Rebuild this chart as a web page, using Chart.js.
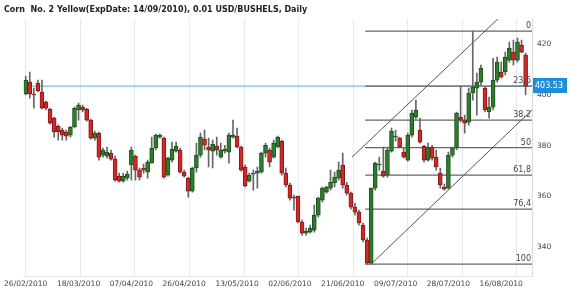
<!DOCTYPE html>
<html>
<head>
<meta charset="utf-8">
<script src="https://cdn.jsdelivr.net/npm/chart.js@4.4.1/dist/chart.umd.min.js"></script>
<style>
html, body { margin: 0; padding: 0; background: #fff; }
</style>
</head>
<body>
<canvas id="mycanvas" width="570" height="295"></canvas>
<script>
// corn daily candles, one entry per trading day
var dateLabels = ['26/02/2010','18/03/2010','07/04/2010','26/04/2010','13/05/2010',
                  '02/06/2010','21/06/2010','09/07/2010','28/07/2010','16/08/2010'];
var labelEvery = 13;     // bars between date labels
var gridEvery = 13.43;   // bars between vertical grid lines

var openP = [400.4,405.1,400.4,404.7,401.2,397.2,394.5,390.9,387.7,386.2,
  385.4,384.2,387.4,394.1,395.2,394.5,390.1,383.0,385.0,376.3,
  375.9,377.1,374.7,368.0,366.0,367.2,372.4,375.9,370.4,371.2,
  369.6,373.1,379.1,383.4,383.0,368.4,374.3,377.9,378.3,369.6,
  367.2,362.1,371.2,376.3,382.6,379.5,377.9,379.9,375.5,377.9,
  377.5,383.4,383.8,379.5,371.6,366.0,368.8,369.2,369.6,377.1,
  378.3,375.5,379.5,381.8,369.2,364.5,359.7,360.1,349.9,345.5,
  345.9,346.7,352.6,358.5,361.7,363.3,365.3,367.2,372.4,364.5,
  361.3,355.8,353.8,348.7,342.8,333.7,363.3,372.4,370.0,368.4,
  377.9,383.4,383.0,377.5,374.3,384.2,391.3,386.2,379.9,374.3,
  379.5,375.5,369.2,363.7,363.3,376.3,379.1,391.3,390.1,389.3,
  400.8,402.7,405.1,402.7,393.3,395.2,405.9,409.1,409.1,413.8,
  416.9,413.8,419.7,415.8];
var highP = [407.5,409.1,402.7,405.9,405.9,397.6,394.8,391.3,388.1,387.0,
  386.2,387.7,395.2,396.8,396.0,394.8,390.5,385.8,385.4,379.1,
  379.5,378.3,375.9,369.2,369.2,370.0,379.5,376.3,371.2,372.8,
  374.3,383.4,384.6,384.6,383.4,375.5,381.4,381.4,379.1,370.4,
  367.6,371.6,381.0,385.0,386.2,383.0,382.2,383.4,381.0,380.2,
  385.0,390.1,387.0,379.9,372.4,369.2,370.4,371.6,377.5,381.0,
  379.1,382.2,383.8,382.2,371.2,365.3,360.5,360.1,350.7,347.5,
  348.7,356.6,359.7,363.7,364.1,370.4,369.6,373.5,377.1,365.6,
  361.7,357.4,354.6,349.5,343.6,363.3,373.5,375.5,379.5,379.5,
  387.0,386.2,383.4,379.1,385.0,394.1,398.0,390.9,380.2,381.0,
  380.2,378.3,371.2,364.9,377.5,379.5,393.3,403.5,392.1,402.7,
  425.2,408.7,411.8,403.1,399.2,414.6,415.0,413.0,416.9,420.9,
  421.7,422.5,421.7,416.6];
var lowP = [400.0,398.8,394.8,401.2,394.5,394.1,388.5,383.4,382.2,382.2,
  382.2,383.4,387.0,390.1,393.3,389.7,382.6,382.2,374.3,375.5,
  375.1,374.3,366.0,365.6,365.6,366.4,366.4,366.4,366.4,369.2,
  367.2,373.1,378.3,383.0,367.2,368.0,373.5,377.5,369.2,367.6,
  359.7,361.7,369.6,375.5,378.3,371.6,371.2,376.3,375.1,377.1,
  373.1,383.0,379.1,370.0,363.7,365.6,362.5,363.3,369.2,375.5,
  371.6,375.1,379.1,368.4,363.7,358.5,354.6,349.5,344.7,344.7,
  345.5,345.9,351.8,357.8,361.3,362.5,363.7,366.4,363.3,360.5,
  355.0,352.6,348.7,342.0,333.3,333.3,362.5,370.4,367.6,367.6,
  377.5,381.8,379.1,375.1,373.9,383.4,390.5,381.0,373.5,373.9,
  374.3,370.4,363.3,362.5,362.9,375.5,378.3,389.3,385.0,388.1,
  398.0,392.1,403.9,393.3,390.9,394.1,405.1,406.7,407.9,413.0,
  411.8,413.0,416.6,400.0];
var closeP = [405.9,400.4,400.0,401.6,394.8,394.8,388.9,385.4,385.4,384.2,
  383.8,387.4,394.8,396.0,394.1,390.1,383.0,385.0,375.5,378.3,
  377.5,374.7,366.4,366.0,368.0,368.8,378.3,370.4,367.6,370.4,
  373.5,379.1,384.2,384.2,367.6,375.1,378.7,379.9,369.6,368.0,
  362.1,371.2,376.3,383.4,380.2,378.3,380.6,378.3,378.3,378.7,
  384.2,384.2,379.5,370.4,364.1,368.4,369.2,370.0,377.1,380.2,
  373.5,381.0,383.4,369.2,364.5,359.3,359.3,349.9,345.5,346.3,
  347.5,352.6,359.3,363.3,363.7,365.6,367.6,370.4,364.5,361.3,
  355.8,353.8,349.5,342.8,333.7,363.3,373.1,372.8,368.0,378.3,
  385.8,383.8,379.5,375.5,384.2,392.9,394.1,381.4,374.3,379.5,
  375.1,371.6,364.5,362.9,376.3,379.1,392.9,390.1,388.9,400.8,
  403.1,405.1,410.6,394.1,395.2,405.9,413.0,407.1,415.0,418.5,
  413.8,420.9,416.9,403.53];

var yTicks = [340, 360, 380, 400, 420];
var lastPrice = 403.53;

// fibonacci retracement (low -> high) and the channel drawn on the chart
var fibRatios = [0, 23.6, 38.2, 50, 61.8, 76.4, 100];
var fibNames = ['0', '23,6', '38,2', '50', '61,8', '76,4', '100'];
var lowerChannelX = [85, 124.6];
var lowerChannelY = [333.3, 394.2];
var upperChannelX = [80.3, 117];
var upperChannelY = [375.5, 431.3];

var xMin = -0.5, xMax = 124.57;
var yMin = 328.6, yMax = 430;

var hi = Math.max.apply(null, highP);
var lo = Math.min.apply(null, lowP);
var loIdx = lowP.indexOf(lo);
var fibLevels = fibRatios.map(function (r) { return hi - r / 100 * (hi - lo); });

var bodies = [], wicks = [], bodyColor = [], bodyBorder = [];
for (var i = 0; i < openP.length; i++) {
  bodies.push({x: i, y: [openP[i], closeP[i]]});
  wicks.push({x: i, y: [lowP[i], highP[i]]});
  var up = closeP[i] >= openP[i];
  bodyColor.push(up ? '#2e7b2e' : '#cd2a2a');
  bodyBorder.push(up ? '#1d521d' : '#861818');
}

var datasets = [
  {type: 'bar', data: bodies, backgroundColor: bodyColor, borderColor: bodyBorder,
   borderWidth: 1, borderSkipped: false, barThickness: 4, minBarLength: 1, grouped: false, order: 1},
  {type: 'bar', data: wicks, backgroundColor: '#666', barThickness: 1, grouped: false, order: 2},
  {type: 'line', data: [{x: lowerChannelX[0], y: lowerChannelY[0]}, {x: lowerChannelX[1], y: lowerChannelY[1]}],
   borderColor: '#555', borderWidth: 1, pointRadius: 0, order: 3},
  {type: 'line', data: [{x: upperChannelX[0], y: upperChannelY[0]}, {x: upperChannelX[1], y: upperChannelY[1]}],
   borderColor: '#555', borderWidth: 1, pointRadius: 0, order: 3},
  {type: 'line', data: [{x: xMin, y: lastPrice}, {x: xMax, y: lastPrice}],
   borderColor: '#58b0d4', borderWidth: 1, pointRadius: 0, order: 6}
];
fibLevels.forEach(function (lv) {
  datasets.push({type: 'line', data: [{x: loIdx - 0.5, y: lv}, {x: xMax, y: lv}],
    borderColor: '#666', borderWidth: 1.2, pointRadius: 0, order: 4});
});

var overlay = {
  id: 'overlay',
  beforeDraw: function (chart) {
    var ctx = chart.ctx;
    ctx.save();
    ctx.font = 'bold 8px "DejaVu Sans"';
    ctx.fillStyle = '#222';
    ctx.textBaseline = 'alphabetic';
    ctx.fillText('Corn  No. 2 Yellow(ExpDate: 14/09/2010), 0.01 USD/BUSHELS, Daily', 4, 12);
    ctx.restore();
  },
  afterDatasetsDraw: function (chart) {
    var ctx = chart.ctx, area = chart.chartArea, y = chart.scales.y;
    ctx.save();
    ctx.font = '8px "DejaVu Sans"';
    ctx.fillStyle = '#444';
    ctx.textAlign = 'right';
    ctx.textBaseline = 'bottom';
    fibLevels.forEach(function (lv, k) {
      ctx.fillText(fibNames[k], area.right - 1, y.getPixelForValue(lv) - 1);
    });
    var py = Math.round(y.getPixelForValue(lastPrice));
    ctx.fillStyle = '#1e8edc';
    ctx.fillRect(area.right + 1, py - 8, 34, 15);
    ctx.fillStyle = '#fff';
    ctx.textAlign = 'left';
    ctx.textBaseline = 'middle';
    ctx.fillText(lastPrice.toFixed(2), area.right + 3, py);
    ctx.restore();
  }
};

new Chart(document.getElementById('mycanvas'), {
  type: 'bar',
  data: {datasets: datasets},
  plugins: [overlay],
  options: {
    responsive: false,
    animation: false,
    layout: {padding: {left: 23, top: 19, right: 0, bottom: 0}},
    plugins: {legend: {display: false}, tooltip: {enabled: false}, title: {display: false}},
    scales: {
      x: {
        type: 'linear', position: 'bottom', min: xMin, max: xMax, offset: false,
        afterBuildTicks: function (s) {
          var t = [];
          for (var k = 0; k * gridEvery <= xMax; k++) t.push({value: k * gridEvery});
          s.ticks = t;
        },
        afterFit: function (s) { s.height = 0; },
        ticks: {display: false},
        grid: {color: '#e3ebf1', drawTicks: false, offset: false},
        border: {display: false}
      },
      xd: {
        type: 'linear', position: 'bottom', min: xMin, max: xMax, offset: false,
        afterBuildTicks: function (s) {
          s.ticks = dateLabels.map(function (d, k) { return {value: k * labelEvery}; });
        },
        afterFit: function (s) { s.height = 19; },
        ticks: {
          autoSkip: false, maxRotation: 0, padding: 4, color: '#444',
          font: {family: 'DejaVu Sans', size: 7.5},
          callback: function (v, k) { return dateLabels[k]; }
        },
        grid: {display: false, drawTicks: false},
        border: {display: true, color: '#dde4ea'}
      },
      y: {
        type: 'linear', position: 'right', min: yMin, max: yMax,
        afterBuildTicks: function (s) {
          s.ticks = yTicks.map(function (v) { return {value: v}; });
        },
        afterFit: function (s) { s.width = 38; },
        ticks: {padding: 5, color: '#444', font: {family: 'DejaVu Sans', size: 7.5}},
        grid: {display: false, drawTicks: false},
        border: {display: true, color: '#d5dde3'}
      }
    }
  }
});
</script>
</body>
</html>
